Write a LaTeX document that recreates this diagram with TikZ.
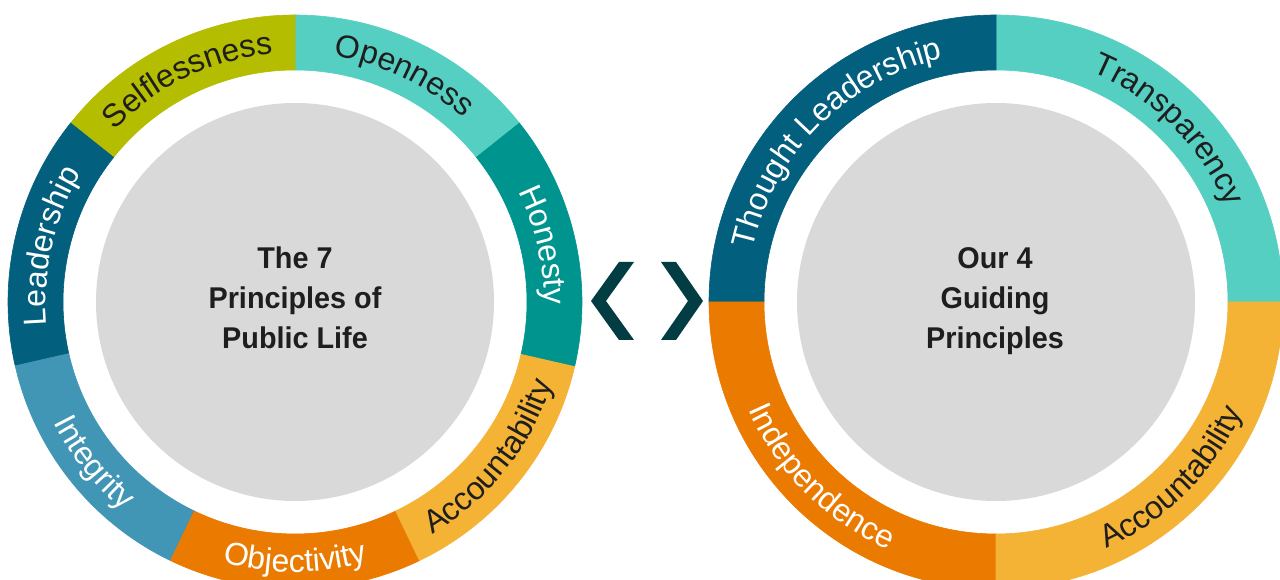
\documentclass[tikz,border=0pt]{standalone}
\usepackage{fontspec}
\setmainfont{Liberation Sans}
\newfontfamily\headfont{Liberation Sans}[FakeStretch=0.96]
\usetikzlibrary{decorations.text}
\definecolor{olive}{HTML}{B4BD00}
\definecolor{lteal}{HTML}{55CFC1}
\definecolor{teal2}{HTML}{00948F}
\definecolor{amber}{HTML}{F4B335}
\definecolor{orng}{HTML}{EB7A00}
\definecolor{steel}{HTML}{4195B5}
\definecolor{dblue}{HTML}{025F7E}
\definecolor{cgray}{HTML}{D9D9D9}
\definecolor{chev}{HTML}{023D44}
\definecolor{ink}{HTML}{1E1E1E}
\newcommand\labfont{\fontsize{32}{38}\selectfont}
% segment: cx, cy, a1, a2, colour
\newcommand\ringseg[5]{%
  \fill[#5, draw=#5, line width=0.6pt, shift={(#1,#2)}] (#3:287) arc[start angle=#3, end angle=#4, radius=287]
    -- (#4:232) arc[start angle=#4, end angle=#3, radius=232] -- cycle;}
% label: cx, cy, start, end, radius, colour, text
\newcommand\ringlab[7]{%
  \path[shift={(#1,#2)}, decorate, decoration={text along path, text align=center,
    text color=#6, text={|\labfont|#7}}] (#3:#5) arc[start angle=#3, end angle=#4, radius=#5];}
\begin{document}
\begin{tikzpicture}[x=1pt, y=1pt,
  headtext/.style={font=\headfont\bfseries\fontsize{30}{36}\selectfont, text=ink, anchor=base, inner sep=0pt},
  chevron/.style={fill=chev}]
\useasboundingbox (0,0) rectangle (1280,580);
\clip (0,0) rectangle (1280,580);
\fill[white] (0,0) rectangle (1280,580);
% ---------- left ring ----------
\ringseg{295}{278}{38.571}{90}{lteal}
\ringseg{295}{278}{90}{141.429}{olive}
\ringseg{295}{278}{141.429}{192.857}{dblue}
\ringseg{295}{278}{192.857}{244.286}{steel}
\ringseg{295}{278}{244.286}{295.714}{orng}
\ringseg{295}{278}{295.714}{347.143}{amber}
\ringseg{295}{278}{-12.857}{38.571}{teal2}
\fill[cgray] (295,278) circle[radius=199];
\ringlab{295}{278}{90}{38.571}{249}{ink}{Openness}
\ringlab{295}{278}{141.429}{90}{249}{ink}{Selflessness}
\ringlab{295}{278}{192.857}{141.429}{249}{white}{Leadership}
\ringlab{295}{278}{192.857}{244.286}{270}{white}{Integrity}
\ringlab{295}{278}{244.286}{295.714}{270}{white}{Objectivity}
\ringlab{295}{278}{295.714}{347.143}{270}{ink}{Accountability}
\ringlab{295}{278}{38.571}{-12.857}{249}{white}{Honesty}
\node[headtext] (l1) at (295,311) {The 7};
\node[headtext] (l2) at (295,271) {Principles of};
\node[headtext] (l3) at (295,231) {Public Life};
% ---------- right ring ----------
\ringseg{996}{278}{0}{90}{lteal}
\ringseg{996}{278}{90}{180}{dblue}
\ringseg{996}{278}{180}{270}{orng}
\ringseg{996}{278}{270}{360}{amber}
\fill[cgray] (996,278) circle[radius=199];
\ringlab{996}{278}{90}{0}{249}{ink}{Transparency}
\ringlab{996}{278}{180}{90}{249}{white}{Thought Leadership}
\ringlab{996}{278}{180}{270}{270}{white}{Independence}
\ringlab{996}{278}{270}{360}{270}{ink}{Accountability}
\node[headtext] (r1) at (995,311) {Our 4};
\node[headtext] (r2) at (995,271) {Guiding};
\node[headtext] (r3) at (995,231) {Principles};
% ---------- chevrons ----------
\fill[chevron] (619,318) -- (634,318) -- (606,279) -- (634,240) -- (619,240) -- (591,279) -- cycle;
\fill[chevron] (661,318) -- (676,318) -- (703,279) -- (676,240) -- (661,240) -- (688,279) -- cycle;
\end{tikzpicture}
\end{document}
